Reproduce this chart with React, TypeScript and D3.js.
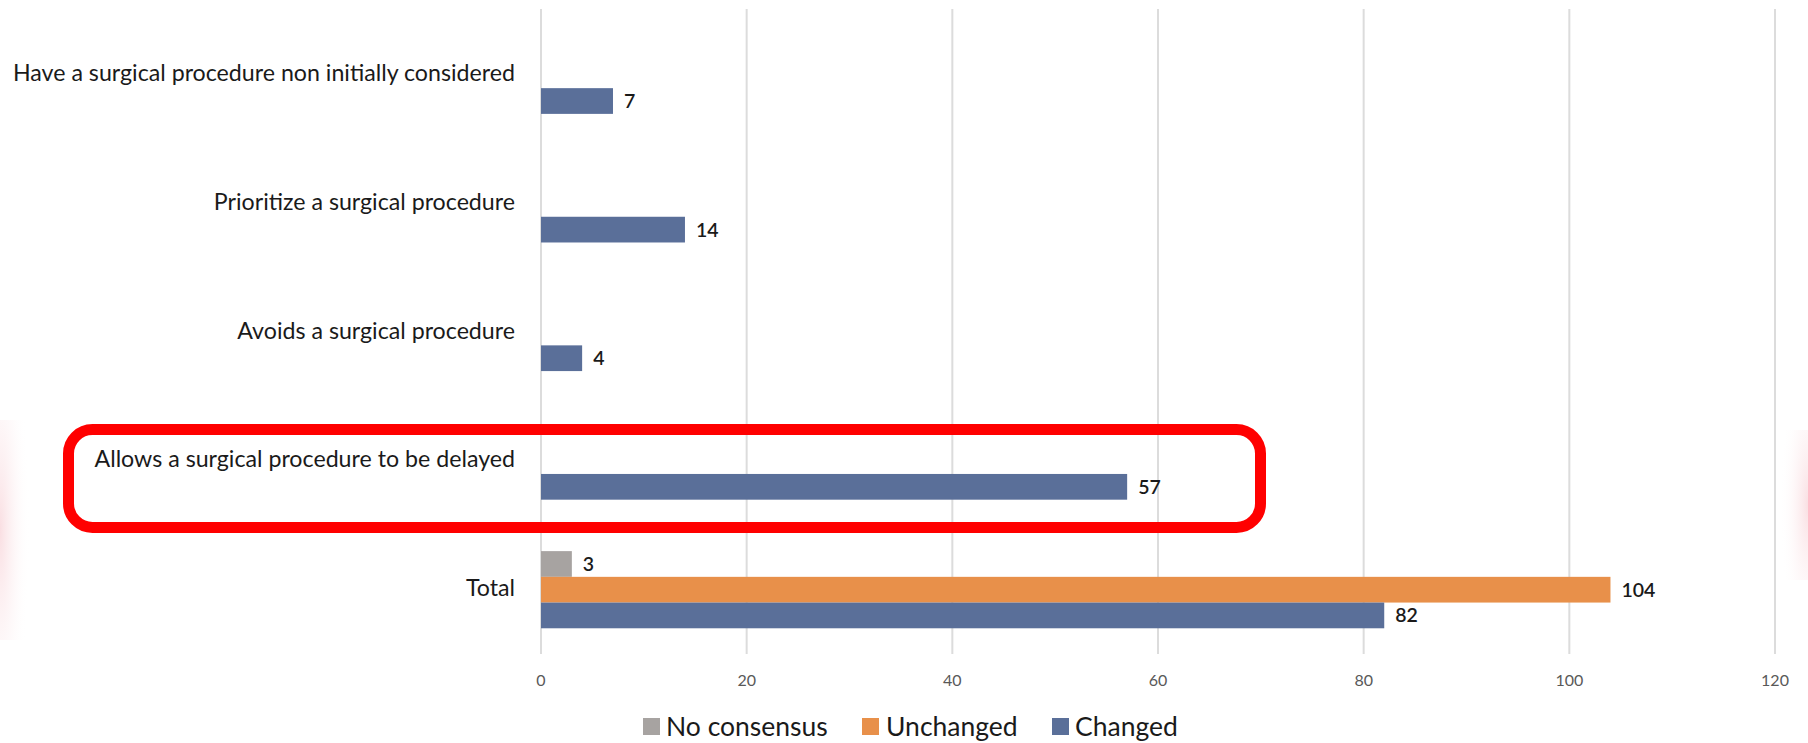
import React from "react";
import * as d3 from "d3";

const categories = [
  "Have a surgical procedure non initially considered",
  "Prioritize a surgical procedure",
  "Avoids a surgical procedure",
  "Allows a surgical procedure to be delayed",
  "Total",
];
const seriesNames = ["No consensus", "Unchanged", "Changed"];
const noConsensus = [0, 0, 0, 0, 3];
const unchanged = [0, 0, 0, 0, 104];
const changed = [7, 14, 4, 57, 82];
const xTicks = [0, 20, 40, 60, 80, 100, 120];
const colors = ["#a7a3a1", "#e8904a", "#5a6f99"];

const W = 1808;
const H = 743;
const FONT = "Lato, 'Open Sans', sans-serif";

export default function App() {
  const x = d3.scaleLinear().domain([0, 120]).range([541, 1775]);
  const y = d3.scaleBand<string>().domain(categories).range([11, 654]).paddingInner(0);
  const bw = y.bandwidth();
  const groupRatio = 0.6;
  const sub = d3
    .scaleBand<string>()
    .domain(seriesNames)
    .range([((1 - groupRatio) / 2) * bw, ((1 + groupRatio) / 2) * bw]);
  const values = [noConsensus, unchanged, changed];

  const legendItems = [
    { name: seriesNames[0], sx: 643, tx: 666 },
    { name: seriesNames[1], sx: 862, tx: 886 },
    { name: seriesNames[2], sx: 1052, tx: 1075 },
  ];

  return (
    <div style={{ position: "absolute", left: 0, top: 0 }}>
      <svg width={W} height={H} style={{ display: "block", background: "#fff" }}>
        <defs>
          <radialGradient id="pinkL" cx="0" cy="0.5" r="1">
            <stop offset="0" stopColor="#f6c9cf" stopOpacity="0.6" />
            <stop offset="1" stopColor="#ffffff" stopOpacity="0" />
          </radialGradient>
          <radialGradient id="pinkR" cx="1" cy="0.5" r="1">
            <stop offset="0" stopColor="#f6c9cf" stopOpacity="0.6" />
            <stop offset="1" stopColor="#ffffff" stopOpacity="0" />
          </radialGradient>
        </defs>
        <rect x={0} y={420} width={30} height={220} fill="url(#pinkL)" />
        <rect x={1780} y={430} width={28} height={150} fill="url(#pinkR)" />
        {/* gridlines */}
        {xTicks.map((t) => (
          <line
            key={t}
            x1={x(t)}
            x2={x(t)}
            y1={9}
            y2={654}
            stroke="#dcdcdc"
            strokeWidth={2}
          />
        ))}
        {/* tick labels */}
        {xTicks.map((t) => (
          <text
            key={"t" + t}
            x={x(t)}
            y={686}
            textAnchor="middle"
            fontFamily={FONT}
            fontSize={16}
            fill="#595959"
          >
            {t}
          </text>
        ))}
        {/* bars */}
        {categories.map((c, ci) => (
          <g key={c} transform={`translate(0,${y(c)})`}>
            {seriesNames.map((s, si) => {
              const v = values[si][ci];
              if (!v) return null;
              const yy = sub(s)!;
              return (
                <g key={s}>
                  <rect
                    x={x(0)}
                    y={yy}
                    width={x(v) - x(0)}
                    height={sub.bandwidth()}
                    fill={colors[si]}
                  />
                  <text
                    x={x(v) + 11}
                    y={yy + sub.bandwidth() / 2}
                    dy="0.36em"
                    fontFamily={FONT}
                    fontSize={19.5}
                    fontWeight={600}
                    fill="#1a1a1a"
                  >
                    {v}
                  </text>
                </g>
              );
            })}
            <text
              x={515}
              y={bw / 2 - 2}
              dy="0.35em"
              textAnchor="end"
              fontFamily={FONT}
              fontSize={23.2}
              fill="#1a1a1a"
            >
              {c}
            </text>
          </g>
        ))}
        {/* highlight box */}
        <rect
          x={68.5}
          y={429.5}
          width={1192}
          height={98}
          rx={24}
          ry={24}
          fill="none"
          stroke="#ff0000"
          strokeWidth={11}
        />
        {/* legend */}
        {legendItems.map((it, i) => (
          <g key={it.name}>
            <rect x={it.sx} y={718} width={17} height={17} fill={colors[i]} />
            <text
              x={it.tx}
              y={727}
              dy="0.35em"
              fontFamily={FONT}
              fontSize={26.5}
              fill="#1a1a1a"
            >
              {it.name}
            </text>
          </g>
        ))}
      </svg>
    </div>
  );
}
